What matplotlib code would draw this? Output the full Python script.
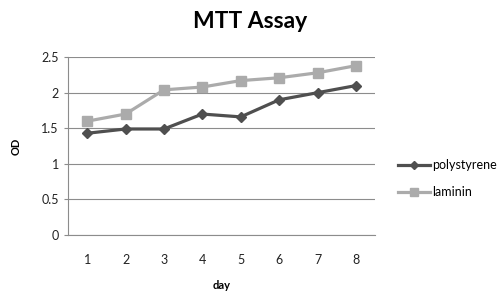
import matplotlib
matplotlib.use("Agg")
import matplotlib.pyplot as plt

days = [1, 2, 3, 4, 5, 6, 7, 8]
polystyrene = [1.43, 1.49, 1.49, 1.70, 1.66, 1.90, 2.00, 2.10]
laminin = [1.60, 1.70, 2.04, 2.08, 2.17, 2.21, 2.28, 2.38]
yticks = [0, 0.5, 1, 1.5, 2, 2.5]
ytick_labels = ["0", "0.5", "1", "1.5", "2", "2.5"]

plt.rcParams['font.family'] = ['Lato', 'DejaVu Sans']

fig = plt.figure(figsize=(5.01, 2.93), dpi=100)
ax = fig.add_axes([0.1357, 0.198, 0.613, 0.607])

ax.plot(days, polystyrene, color='#4f4f4f', lw=2.3, marker='D', ms=5.5,
        label='polystyrene', zorder=3)
ax.plot(days, laminin, color='#ababab', lw=2.3, marker='s', ms=7,
        label='laminin', zorder=3)

ax.set_xlim(0.5, 8.5)
ax.set_ylim(0, 2.5)
ax.set_yticks(yticks)
ax.set_yticklabels(ytick_labels)
ax.set_xticks(days)
ax.yaxis.grid(True, color='#8c8c8c', lw=0.8)
ax.set_axisbelow(True)
for s in ['top', 'right']:
    ax.spines[s].set_visible(False)
for s in ['left', 'bottom']:
    ax.spines[s].set_color('#8c8c8c')
ax.tick_params(axis='both', colors='#8c8c8c', labelcolor='#222222',
               labelsize=9, length=3)
ax.tick_params(axis='x', length=0, pad=14)

ax.set_ylabel('OD', fontsize=8, fontweight='bold', labelpad=14)
ax.set_xlabel('day', fontsize=8, fontweight='bold', labelpad=10)
fig.text(0.5, 0.925, 'MTT Assay', ha='center', va='center',
         fontsize=16.5, fontweight='bold')

fig.legend(handles=ax.get_lines(), loc='center left',
           bbox_to_anchor=(0.795, 0.391), bbox_transform=fig.transFigure,
           frameon=False, borderpad=0, borderaxespad=0,
           fontsize=9, handlelength=2.5, handletextpad=0.2, labelspacing=1.2,
           markerscale=0.8)

fig.savefig('out.png', dpi=100)
